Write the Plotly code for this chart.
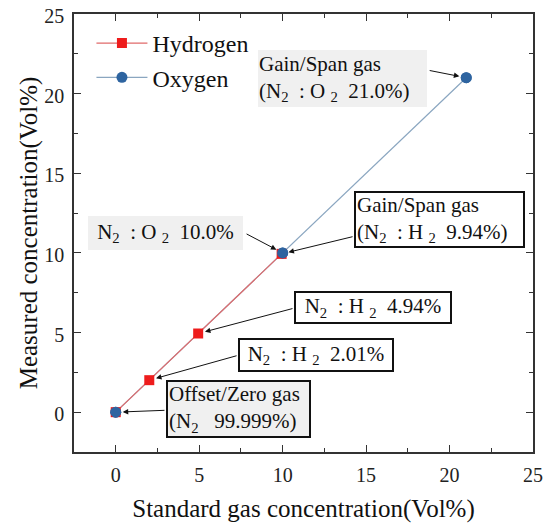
import plotly.graph_objects as go

# ---- data ----
h2_standard = [0, 2.01, 4.94, 9.94]
h2_measured = [0, 2.01, 4.94, 9.94]
o2_standard = [0, 10.0, 21.0]
o2_measured = [0, 10.0, 21.0]

x_ticks = [0, 5, 10, 15, 20, 25]
y_ticks = [0, 5, 10, 15, 20, 25]

FONT = "Liberation Serif, Times New Roman, serif"
RED = "#ee1c1c"
RED_LINE = "#e06a6a"
BLUE = "#2e64a0"
BLUE_LINE = "#8aa6c0"

fig = go.Figure()
# oxygen line (bottom layer)
fig.add_trace(go.Scatter(
    x=o2_standard, y=o2_measured, mode="lines+markers", name="Oxygen",
    line=dict(color=BLUE_LINE, width=1.2),
    marker=dict(symbol="circle", size=11, color=BLUE),
    legendrank=2, legendgroup="o2",
))
fig.add_trace(go.Scatter(
    x=h2_standard, y=h2_measured, mode="lines+markers", name="Hydrogen",
    line=dict(color=RED_LINE, width=1.2),
    marker=dict(symbol="square", size=10, color=RED),
    legendrank=1,
))
# oxygen markers on top of hydrogen
fig.add_trace(go.Scatter(
    x=o2_standard, y=o2_measured, mode="markers", name="Oxygen",
    marker=dict(symbol="circle", size=11, color=BLUE),
    showlegend=False, legendgroup="o2",
))

sub = lambda s: f"<sub>{s}</sub>"

# text boxes: (text, x, y, width, height, bordered, fill)
GRAY = "#f0f0f0"
WHITE = "#ffffff"
boxes = [
    (f"Gain/Span gas<br>(N{sub('2')}  : O {sub('2')}  21.0%)", 13.59, 20.94, 167, 55, False, GRAY),
    (f"N{sub('2')}  : O {sub('2')}  10.0%", 2.98, 11.24, 153, 32, False, GRAY),
    (f"Gain/Span gas<br>(N{sub('2')}  : H {sub('2')}  9.94%)", 19.40, 12.09, 165, 51, True, WHITE),
    (f"N{sub('2')}  : H {sub('2')}  4.94%", 15.42, 6.56, 152, 27, True, WHITE),
    (f"N{sub('2')}  : H {sub('2')}  2.01%", 12.0, 3.57, 150, 28, True, WHITE),
    (f"Offset/Zero gas<br>(N{sub('2')}   99.999%)", 7.36, 0.18, 139, 52, True, GRAY),
]
for text, bx, by, w, h, bordered, fill in boxes:
    fig.add_annotation(
        x=bx, y=by, xref="x", yref="y", text=text, showarrow=False,
        font=dict(family=FONT, size=21, color="#111"),
        align="left" if "<br>" in text else "center",
        width=w, height=h, bgcolor=fill,
        bordercolor="#111" if bordered else "rgba(0,0,0,0)",
        borderwidth=2 if bordered else 0, borderpad=1,
    )

# arrows: (tail x, tail y, target x, target y)
arrows = [
    (18.72, 21.47, o2_standard[2], o2_measured[2]),
    (7.75, 11.24, o2_standard[1], o2_measured[1]),
    (14.28, 11.04, h2_standard[3], h2_measured[3]),
    (10.68, 6.53, h2_standard[2], h2_measured[2]),
    (7.33, 3.57, h2_standard[1], h2_measured[1]),
    (3.01, 0.12, o2_standard[0], o2_measured[0]),
]
for tx, ty, px, py in arrows:
    fig.add_annotation(
        x=px, y=py, ax=tx, ay=ty, xref="x", yref="y", axref="x", ayref="y",
        text="", showarrow=True, arrowhead=2, arrowsize=1.1, arrowwidth=1,
        arrowcolor="#111", standoff=7,
    )

axis_common = dict(
    showgrid=False, zeroline=False, showline=True, linecolor="#333", linewidth=1.5,
    mirror="ticks", ticks="inside", ticklen=7, tickwidth=1.2, tickcolor="#333",
    tickfont=dict(family=FONT, size=20, color="#222"),
    minor=dict(ticks="inside", ticklen=4, tickwidth=1, tickcolor="#333", dtick=2.5),
    automargin=False, ticklabeloverflow="allow",
)

fig.update_xaxes(range=[-2.5, 25], tickvals=x_ticks, ticklabelstandoff=4,
                 title=dict(text="Standard gas concentration(Vol%)",
                            font=dict(family=FONT, size=25, color="#111"), standoff=15),
                 **axis_common)
fig.update_yaxes(range=[-2.5, 25], tickvals=y_ticks, ticklabelstandoff=4,
                 ticklabelshift=2,
                 title=dict(text="Measured concentration(Vol%)",
                            font=dict(family=FONT, size=25, color="#111"), standoff=0),
                 **axis_common)

# page body has an 8px margin; compensate so the plot lands where the reference has it
fig.update_layout(
    width=543, height=515,
    margin=dict(l=66, r=18, t=6, b=71),
    plot_bgcolor="white", paper_bgcolor="white",
    showlegend=True,
    legend=dict(x=0.038, y=0.984, xanchor="left", yanchor="top",
                font=dict(family=FONT, size=24, color="#111"),
                itemwidth=51, traceorder="normal",
                bgcolor="rgba(0,0,0,0)", tracegroupgap=0),
)

fig.write_html("out.html")
